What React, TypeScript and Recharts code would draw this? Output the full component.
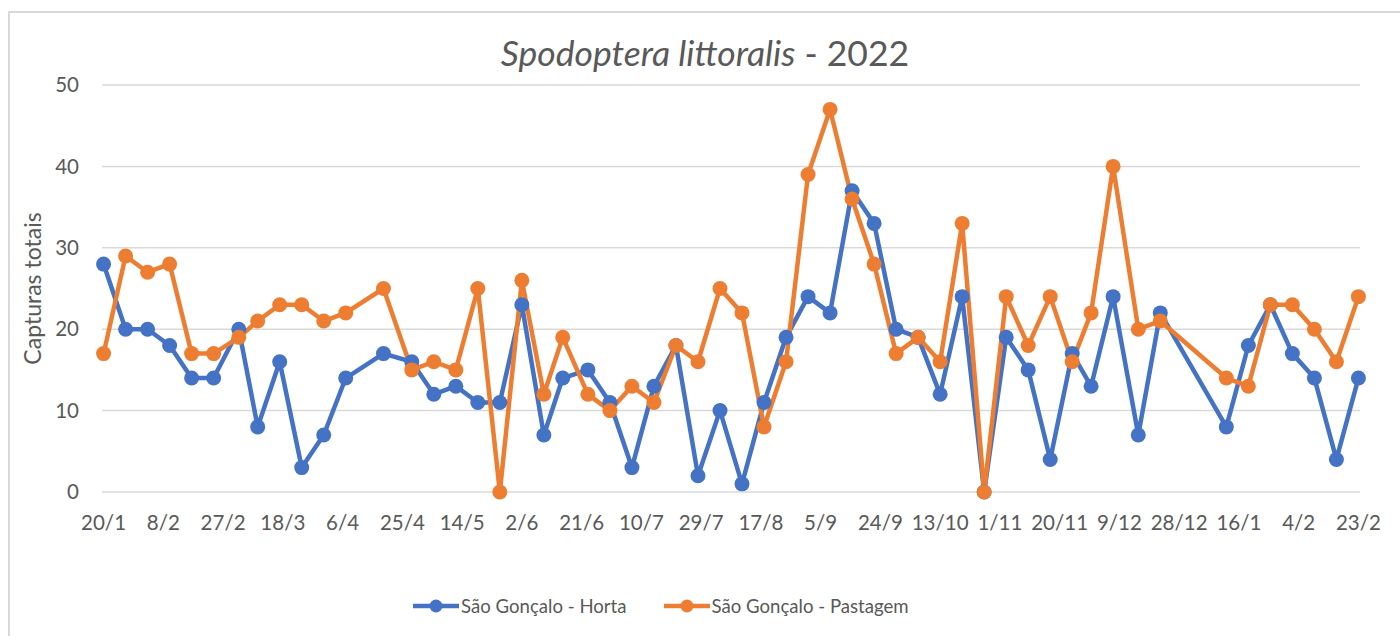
import React from 'react';
import { LineChart, Line, XAxis, YAxis, CartesianGrid, Legend } from 'recharts';

const sampleDates = [
  '2022-01-20', '2022-01-27', '2022-02-03', '2022-02-10', '2022-02-17', '2022-02-24',
  '2022-03-04', '2022-03-10', '2022-03-17', '2022-03-24', '2022-03-31', '2022-04-07',
  '2022-04-19', '2022-04-28', '2022-05-05', '2022-05-12', '2022-05-19', '2022-05-26',
  '2022-06-02', '2022-06-09', '2022-06-15', '2022-06-23', '2022-06-30', '2022-07-07',
  '2022-07-14', '2022-07-21', '2022-07-28', '2022-08-04', '2022-08-11', '2022-08-18',
  '2022-08-25', '2022-09-01', '2022-09-08', '2022-09-15', '2022-09-22', '2022-09-29',
  '2022-10-06', '2022-10-13', '2022-10-20', '2022-10-27', '2022-11-03', '2022-11-10',
  '2022-11-17', '2022-11-24', '2022-11-30', '2022-12-07', '2022-12-15', '2022-12-22',
  '2023-01-12', '2023-01-19', '2023-01-26', '2023-02-02', '2023-02-09', '2023-02-16',
  '2023-02-23',
];

const hortaValues = [
  28, 20, 20, 18, 14, 14, 20, 8, 16, 3, 7, 14, 17, 16, 12, 13, 11, 11, 23, 7, 14, 15, 11, 3,
  13, 18, 2, 10, 1, 11, 19, 24, 22, 37, 33, 20, 19, 12, 24, 0, 19, 15, 4, 17, 13, 24, 7, 22,
  8, 18, 23, 17, 14, 4, 14,
];

const pastagemValues = [
  17, 29, 27, 28, 17, 17, 19, 21, 23, 23, 21, 22, 25, 15, 16, 15, 25, 0, 26, 12, 19, 12, 10, 13,
  11, 18, 16, 25, 22, 8, 16, 39, 47, 36, 28, 17, 19, 16, 33, 0, 24, 18, 24, 16, 22, 40, 20, 21,
  14, 13, 23, 23, 20, 16, 24,
];

const seriesNames = ['São Gonçalo - Horta', 'São Gonçalo - Pastagem'];
const seriesColors = ['#4472C4', '#ED7D31'];

const tickDays = [0, 19, 38, 57, 76, 95, 114, 133, 152, 171, 190, 209, 228, 247, 266, 285, 304, 323, 342, 361, 380, 399];
const tickLabels = ['20/1', '8/2', '27/2', '18/3', '6/4', '25/4', '14/5', '2/6', '21/6', '10/7', '29/7', '17/8', '5/9', '24/9', '13/10', '1/11', '20/11', '9/12', '28/12', '16/1', '4/2', '23/2'];
const yTicks = [0, 10, 20, 30, 40, 50];

const START = Date.UTC(2022, 0, 20);
const toDay = (iso: string) => {
  const [y, m, d] = iso.split('-').map(Number);
  return Math.round((Date.UTC(y, m - 1, d) - START) / 86400000);
};

const data = sampleDates.map((d, i) => ({
  day: toDay(d),
  horta: hortaValues[i],
  pastagem: pastagemValues[i],
}));

const labelFor = (v: number) => {
  const idx = tickDays.indexOf(v);
  return idx >= 0 ? tickLabels[idx] : '';
};

const TEXT = '#595959';
const GRID = '#D9D9D9';

const renderLegend = (props: any) => {
  const payload = props.payload || [];
  return (
    <div style={{ display: 'flex', alignItems: 'center', height: 30, paddingLeft: 413, gap: 37 }}>
      {payload.map((e: any, i: number) => (
        <div key={i} style={{ display: 'flex', alignItems: 'center' }}>
          <svg width={46} height={16} style={{ display: 'block' }}>
            <line x1={0} y1={8} x2={46} y2={8} stroke={e.color} strokeWidth={4.5} strokeLinecap="round" />
            <circle cx={23} cy={8} r={6.5} fill={e.color} />
          </svg>
          <span style={{ marginLeft: 2, fontSize: 18.6, color: TEXT, lineHeight: '30px' }}>{e.value}</span>
        </div>
      ))}
    </div>
  );
};

export default function App() {
  return (
    <div style={{ position: 'fixed', left: 0, top: 0, width: 1400, height: 636, overflow: 'hidden', background: '#fff', fontFamily: 'Lato, sans-serif' }}>
      <div style={{ position: 'absolute', left: 8, top: 11, width: 1420, height: 700, borderTop: `2px solid ${GRID}`, borderLeft: `2px solid ${GRID}`, boxSizing: 'border-box' }} />
      <svg width={1400} height={90} style={{ position: 'absolute', left: 0, top: 0 }}>
        <text x={705} y={66} textAnchor="middle" fill={TEXT} fontSize={35.5} fontFamily="Lato, sans-serif">
          <tspan fontStyle="italic">Spodoptera littoralis</tspan>
          <tspan> - 2022</tspan>
        </text>
      </svg>
      <div style={{ position: 'absolute', left: 0, top: 0 }}>
        <LineChart width={1400} height={636} data={data} margin={{ top: 85, right: 40, bottom: 114, left: 0 }}>
          <CartesianGrid vertical={false} stroke={GRID} strokeWidth={1.5} />
          <XAxis
            dataKey="day"
            type="number"
            domain={[-0.5, 399.5]}
            ticks={tickDays}
            interval={0}
            tickFormatter={labelFor}
            axisLine={false}
            tickLine={false}
            tickSize={0}
            tickMargin={23}
            height={30}
            tick={{ fill: TEXT, fontSize: 20.5 }}
          />
          <YAxis
            type="number"
            domain={[0, 50]}
            ticks={yTicks}
            interval={0}
            axisLine={false}
            tickLine={false}
            tickSize={0}
            tickMargin={23}
            width={102}
            tick={{ fill: TEXT, fontSize: 20.5 }}
            label={{ value: 'Capturas totais', angle: -90, position: 'insideLeft', offset: 33, style: { textAnchor: 'middle', fill: TEXT, fontSize: 23 } }}
          />
          <Legend
            verticalAlign="middle"
            align="center"
            layout="horizontal"
            wrapperStyle={{ top: 591, left: 0, width: 1400, height: 30 }}
            content={renderLegend}
          />
          <Line
            type="linear"
            dataKey="horta"
            name={seriesNames[0]}
            stroke={seriesColors[0]}
            strokeWidth={4.5}
            strokeLinejoin="round"
            dot={{ r: 7.5, fill: seriesColors[0], stroke: seriesColors[0], strokeWidth: 0 }}
            activeDot={false}
            isAnimationActive={false}
          />
          <Line
            type="linear"
            dataKey="pastagem"
            name={seriesNames[1]}
            stroke={seriesColors[1]}
            strokeWidth={4.5}
            strokeLinejoin="round"
            dot={{ r: 7.5, fill: seriesColors[1], stroke: seriesColors[1], strokeWidth: 0 }}
            activeDot={false}
            isAnimationActive={false}
          />
        </LineChart>
      </div>
    </div>
  );
}
